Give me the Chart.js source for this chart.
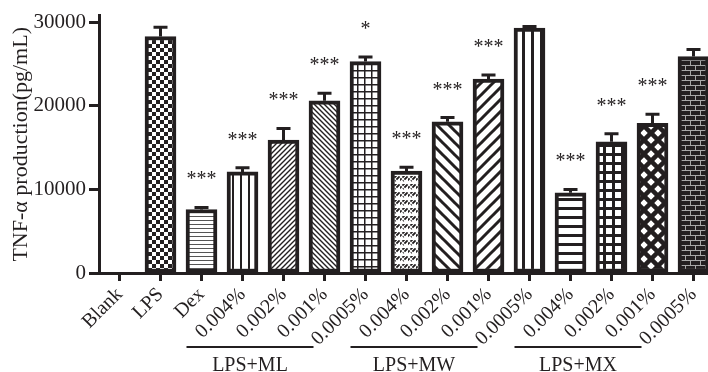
<!DOCTYPE html>
<html>
<head>
<meta charset="utf-8">
<script src="https://cdn.jsdelivr.net/npm/chart.js@4"></script>
<style>
html,body{margin:0;padding:0;background:#fff;overflow:hidden}
</style>
</head>
<body>
<canvas id="grafico" width="714" height="372"></canvas>
<script>
const categorias = ['Blank','LPS','Dex','0.004%','0.002%','0.001%','0.0005%','0.004%','0.002%','0.001%','0.0005%','0.004%','0.002%','0.001%','0.0005%'];
const valores = [0,28300,7600,12100,15900,20600,25300,12200,18100,23200,29300,9600,15700,17900,25900];
const errores = [0,1100,250,500,1400,900,550,450,500,500,200,400,950,1100,850];
const significancia = ['','','***','***','***','***','*','***','***','***','','***','***','***',''];
const grupos = ['LPS+ML','LPS+MW','LPS+MX'];
const gruposInicio = [3,7,11];
const gruposFin = [6,10,14];
const ticksY = [0,10000,20000,30000];

const tinta = '#231f20';
const fuente = '"Liberation Serif", "Times New Roman", serif';

const ctx = document.getElementById('grafico');
const g2d = ctx.getContext('2d');

function trama(w, h, dibujar, fondo){
  const c = document.createElement('canvas');
  c.width = w; c.height = h;
  const g = c.getContext('2d');
  g.fillStyle = fondo || '#fff';
  g.fillRect(0,0,w,h);
  g.fillStyle = tinta;
  g.strokeStyle = tinta;
  dibujar(g, w, h);
  return g2d.createPattern(c, 'repeat');
}

function diagonal(g, s, lw, dir){
  g.lineWidth = lw;
  g.beginPath();
  for (let k = -1; k <= 1; k++){
    if (dir > 0){ g.moveTo(k*s-1, s+1); g.lineTo(k*s+s+1, -1); }
    else { g.moveTo(k*s-1, -1); g.lineTo(k*s+s+1, s+1); }
  }
  g.stroke();
}

const tramas = [
  '#fff',
  trama(8,8,g=>{ g.fillRect(0,0,4,4); g.fillRect(4,4,4,4); }),
  trama(4,4,g=>{ g.fillStyle='#555'; g.fillRect(0,0,4,1); }),
  trama(8,8,g=>{ g.fillRect(0,0,2,8); }),
  trama(5,5,g=>diagonal(g,5,1.4,1)),
  trama(5,5,g=>diagonal(g,5,1.4,-1)),
  trama(7,7,g=>{ g.fillRect(0,0,7,1.5); g.fillRect(0,0,1.5,7); }),
  trama(8,8,g=>{ diagonal(g,4,1.8,1); g.strokeStyle='#fff'; diagonal(g,8,1.2,-1); }),
  trama(12,12,g=>diagonal(g,12,3,-1)),
  trama(12,12,g=>diagonal(g,12,3,1)),
  trama(9,9,g=>{ g.fillRect(0,0,3,9); }),
  trama(9,9,g=>{ g.fillRect(0,0,9,3); }),
  trama(9,9,g=>{ g.fillRect(0,0,9,3); g.fillRect(0,0,3,9); }),
  trama(14,14,g=>{ diagonal(g,14,4.5,1); diagonal(g,14,4.5,-1); }),
  trama(10,10,g=>{
    g.fillStyle='#a8a8a8';
    g.fillRect(0,0,10,1); g.fillRect(0,5,10,1);
    g.fillRect(0,0,1,5); g.fillRect(5,5,1,5);
  }, tinta)
];

const barrasError = {
  id:'barrasError',
  afterDatasetsDraw(chart){
    const c = chart.ctx, x = chart.scales.x, y = chart.scales.y;
    c.save();
    c.strokeStyle = tinta;
    c.fillStyle = tinta;
    c.lineWidth = 3;
    valores.forEach((v,i)=>{
      if (!errores[i]) return;
      const px = x.getPixelForValue(i);
      const y0 = y.getPixelForValue(v);
      const y1 = y.getPixelForValue(v + errores[i]);
      c.beginPath();
      c.moveTo(px, y0); c.lineTo(px, y1);
      c.moveTo(px-7, y1); c.lineTo(px+7, y1);
      c.stroke();
      if (significancia[i]){
        c.font = '20px ' + fuente;
        c.textAlign = 'center';
        c.textBaseline = 'alphabetic';
        c.fillText(significancia[i], px, y1 - 22);
      }
    });
    c.restore();
  }
};

const etiquetasGrupo = {
  id:'etiquetasGrupo',
  afterDraw(chart){
    const c = chart.ctx, x = chart.scales.x;
    c.save();
    c.strokeStyle = tinta;
    c.fillStyle = tinta;
    c.lineWidth = 2;
    c.font = '20px ' + fuente;
    c.textAlign = 'center';
    c.textBaseline = 'alphabetic';
    grupos.forEach((nombre,i)=>{
      const a = x.getPixelForValue(gruposInicio[i]) - 56;
      const b = x.getPixelForValue(gruposFin[i]) - 52;
      c.beginPath();
      c.moveTo(a, 347); c.lineTo(b, 347);
      c.stroke();
      c.fillText(nombre, (a+b)/2, 371);
    });
    c.restore();
  }
};

new Chart(ctx,{
  type:'bar',
  data:{
    labels:categorias,
    datasets:[{
      data:valores,
      backgroundColor:tramas,
      borderColor:tinta,
      borderWidth:4,
      borderSkipped:false,
      barThickness:31
    }]
  },
  options:{
    responsive:false,
    animation:false,
    devicePixelRatio:1,
    layout:{ padding:{ left:0, top:2, right:0, bottom:0 } },
    plugins:{ legend:{ display:false }, tooltip:{ enabled:false } },
    scales:{
      x:{
        grid:{ display:true, drawOnChartArea:false, offset:false, tickLength:8, tickWidth:3, color:tinta },
        border:{ width:3, color:tinta },
        ticks:{ minRotation:45, maxRotation:45, autoSkip:false, padding:2, color:tinta, font:{ family:fuente, size:20 } },
        afterFit(s){ s.height = 99; }
      },
      y:{
        min:0,
        max:30800,
        afterBuildTicks(s){ s.ticks = ticksY.map(v=>({ value:v })); },
        ticks:{ padding:3, color:tinta, font:{ family:fuente, size:21 }, callback:v=>String(v) },
        grid:{ drawOnChartArea:false, tickLength:10, tickWidth:3, color:tinta },
        border:{ width:3, color:tinta },
        title:{ display:true, text:'TNF-α production(pg/mL)', color:tinta, font:{ family:fuente, size:22 }, padding:{ top:8, bottom:0 } },
        afterFit(s){ s.width = 99; }
      }
    }
  },
  plugins:[barrasError, etiquetasGrupo]
});
</script>
</body>
</html>
